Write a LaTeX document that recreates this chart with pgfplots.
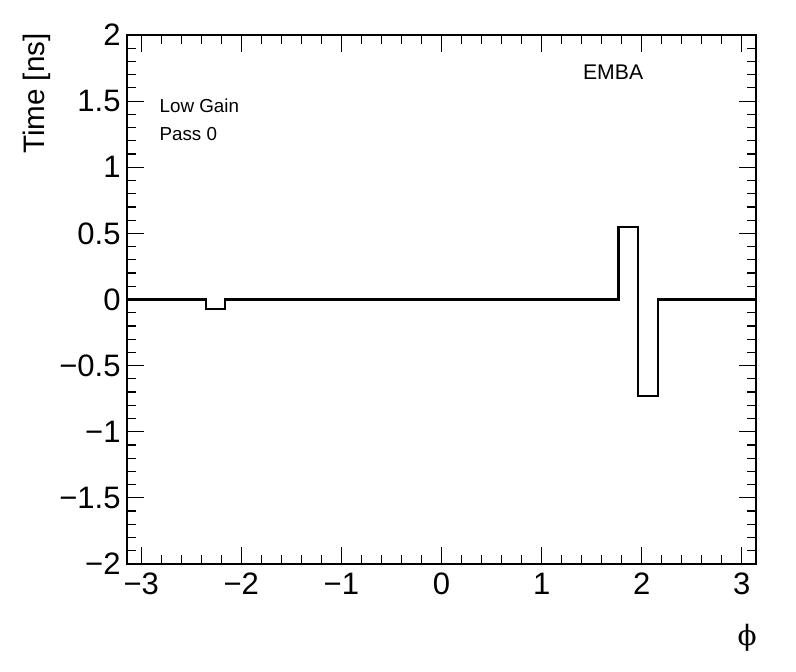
\documentclass[border=0pt]{standalone}
\usepackage{pgfplots}
\pgfplotsset{compat=1.18}
\usepackage{fontspec}
\setmainfont{Liberation Sans}
\newfontfamily\dejavuserif{DejaVu Serif}
\begin{document}
\begin{tikzpicture}
\path[use as bounding box] (-63.5pt,-54pt) rectangle (334.5pt,282pt);
\begin{axis}[
  at={(0,0)}, anchor=south west,
  scale only axis,
  width=314.5pt, height=264.5pt,
  xmin=-3.14159, xmax=3.14159,
  ymin=-2, ymax=2,
  xtick={-3,-2,-1,0,1,2,3},
  xticklabels={−3,−2,−1,0,1,2,3},
  ytick={-2,-1.5,-1,-0.5,0,0.5,1,1.5,2},
  yticklabels={−2,−1.5,−1,−0.5,0,0.5,1,1.5,2},
  minor x tick num=4,
  minor y tick num=4,
  tick align=inside,
  major tick length=8.5pt,
  minor tick length=4.5pt,
  tick style={black, line width=0.6pt},
  axis line style={line width=0.8pt},
  xticklabel style={font=\fontsize{15.5pt}{17pt}\selectfont, yshift=-1pt},
  yticklabel style={font=\fontsize{15.5pt}{17pt}\selectfont, xshift=0.3pt},
  xlabel={{\dejavuserif ϕ}},
  xlabel style={at={(axis description cs:0.986,-0.14)}, anchor=center, font=\fontsize{14pt}{16pt}\selectfont},
  ylabel={Time [ns]},
  ylabel style={at={(axis description cs:-0.1435,1.004)}, anchor=east, inner sep=0pt, font=\fontsize{14.8pt}{16pt}\selectfont},
  clip=false,
]
\addplot[const plot, black, line width=1.1pt] coordinates {
(-3.1416,0) (-2.9452,0) (-2.7489,0) (-2.5525,0) (-2.3562,-0.07) (-2.1598,0)
(-1.9635,0) (-1.7671,0) (-1.5708,0) (-1.3744,0) (-1.1781,0) (-0.9817,0)
(-0.7854,0) (-0.5890,0) (-0.3927,0) (-0.1963,0) (0,0) (0.1963,0)
(0.3927,0) (0.5890,0) (0.7854,0) (0.9817,0) (1.1781,0) (1.3744,0)
(1.5708,0) (1.7671,0.55) (1.9635,-0.73) (2.1598,0) (2.3562,0) (2.5525,0)
(2.7489,0) (2.9452,0) (3.1416,0)
};
\node[anchor=west, font=\fontsize{9.4pt}{11pt}\selectfont, inner sep=0pt] at (axis cs:-2.82,1.462) {Low Gain};
\node[anchor=west, font=\fontsize{9.4pt}{11pt}\selectfont, inner sep=0pt] at (axis cs:-2.82,1.25) {Pass 0};
\node[anchor=west, font=\fontsize{10.6pt}{12pt}\selectfont, inner sep=0pt] at (axis cs:1.41,1.72) {EMBA};
\end{axis}
\end{tikzpicture}
\end{document}
